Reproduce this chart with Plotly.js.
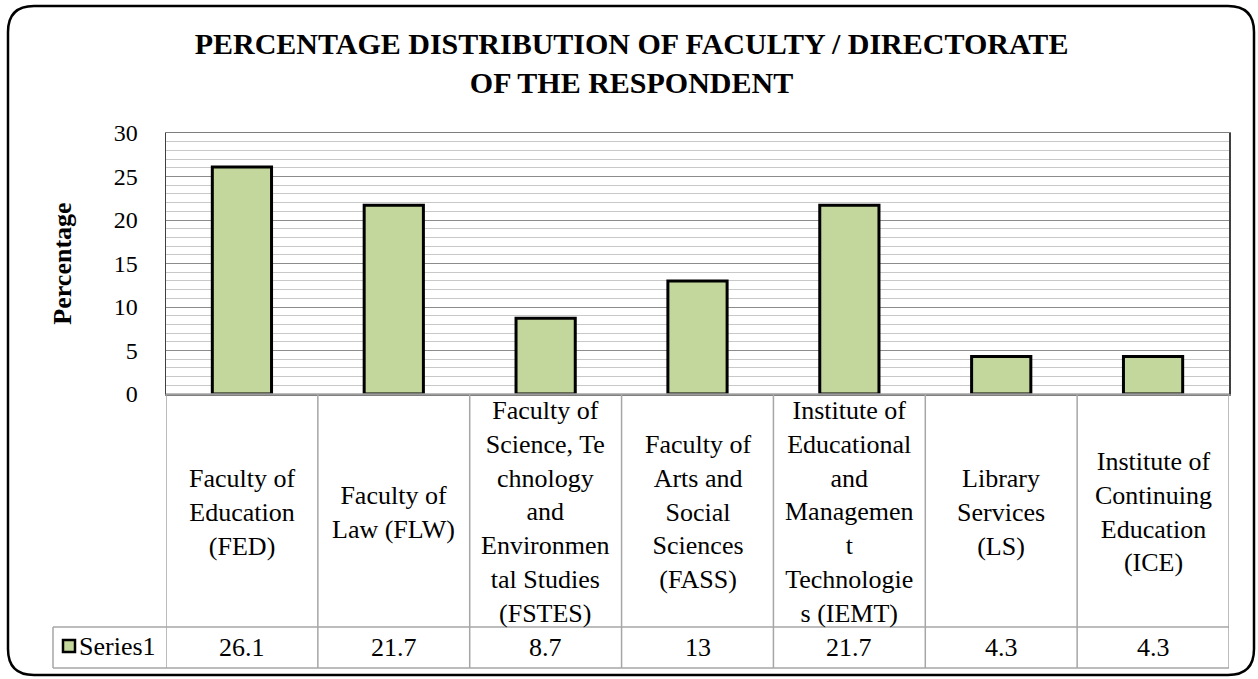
<!DOCTYPE html>
<html>
<head>
<meta charset="utf-8">
<script src="https://cdn.plot.ly/plotly-3.0.1.min.js"></script>
<style>
html,body{margin:0;padding:0;background:#fff;}
#chart{width:1258px;height:679px;}
#warm{position:absolute;left:-9999px;top:0;font-family:"Liberation Serif";font-size:26px;}
</style>
</head>
<body>
<div id="warm">Faculty 0123456789 <b>PERCENTAGE Percentage</b></div>
<div id="chart"></div>
<script>
// ---- data ----
const categories = [
  "Faculty of<br>Education<br>(FED)",
  "Faculty of<br>Law (FLW)",
  "Faculty of<br>Science, Te<br>chnology<br>and<br>Environmen<br>tal Studies<br>(FSTES)",
  "Faculty of<br>Arts and<br>Social<br>Sciences<br>(FASS)",
  "Institute of<br>Educational<br>and<br>Managemen<br>t<br>Technologie<br>s (IEMT)",
  "Library<br>Services<br>(LS)",
  "Institute of<br>Continuing<br>Education<br>(ICE)"
];
const values = [26.1, 21.7, 8.7, 13, 21.7, 4.3, 4.3];
const seriesName = "Series1";
const yTickVals = [0, 5, 10, 15, 20, 25, 30];
const titleText = "PERCENTAGE DISTRIBUTION OF FACULTY / DIRECTORATE<br>OF THE RESPONDENT";
const yTitle = "Percentage";

// ---- layout helpers (pixel -> paper) ----
const W = 1258, H = 679;
const L = 166, R = 1229, T = 133, B = 394;
const px = x => (x - L) / (R - L);
const py = y => (B - y) / (B - T);
const FONT = "Liberation Serif";
const GREEN = "#c3d69b";
const GRIDTABLE = "#a6a6a6";

function build() {
  const idx = categories.map((_, i) => i);
  const trace = {
    type: "bar",
    x: idx,
    y: values,
    name: seriesName,
    width: 0.39,
    marker: { color: GREEN, line: { color: "#000", width: 3 } },
    showlegend: false
  };

  const shapes = [];
  (function () {
    const x0 = 8, y0 = 6, x1 = 1254, y1 = 675, r = 26;
    const p = (x, y) => px(x) + "," + py(y);
    const d = "M " + p(x0 + r, y0) + " L " + p(x1 - r, y0) +
      " Q " + p(x1, y0) + " " + p(x1, y0 + r) +
      " L " + p(x1, y1 - r) +
      " Q " + p(x1, y1) + " " + p(x1 - r, y1) +
      " L " + p(x0 + r, y1) +
      " Q " + p(x0, y1) + " " + p(x0, y1 - r) +
      " L " + p(x0, y0 + r) +
      " Q " + p(x0, y0) + " " + p(x0 + r, y0) + " Z";
    shapes.push({ type: "path", xref: "paper", yref: "paper", path: d,
      line: { color: "#000", width: 2.5 }, layer: "below" });
  })();

  const rowTop = py(394), rowMid = py(627), rowBot = py(668);
  const legendLeft = px(53);
  const tl = { color: GRIDTABLE, width: 1.5 };
  shapes.push({ type: "line", xref: "paper", yref: "paper", x0: 0, x1: 1, y0: rowTop, y1: rowTop, line: tl });
  shapes.push({ type: "line", xref: "paper", yref: "paper", x0: legendLeft, x1: 1, y0: rowMid, y1: rowMid, line: tl });
  shapes.push({ type: "line", xref: "paper", yref: "paper", x0: legendLeft, x1: 1, y0: rowBot, y1: rowBot, line: tl });
  shapes.push({ type: "line", xref: "paper", yref: "paper", x0: legendLeft, x1: legendLeft, y0: rowMid, y1: rowBot, line: tl });
  for (let i = 0; i <= categories.length; i++) {
    shapes.push({ type: "line", xref: "x", yref: "paper", x0: i - 0.5, x1: i - 0.5, y0: rowTop, y1: rowBot, line: tl });
  }
  shapes.push({ type: "rect", xref: "paper", yref: "paper", x0: px(63), x1: px(75), y0: py(652), y1: py(640),
    fillcolor: GREEN, line: { color: "#000", width: 2.5 } });

  const annotations = [];
  categories.forEach((c, i) => {
    annotations.push({ x: i, xref: "x", y: py(512), yref: "paper", text: c, showarrow: false,
      xanchor: "center", yanchor: "middle", align: "center",
      font: { family: FONT, size: 26 } });
    annotations.push({ x: i, xref: "x", y: py(647), yref: "paper", text: String(values[i]), showarrow: false,
      xanchor: "center", yanchor: "middle",
      font: { family: FONT, size: 26 } });
  });
  annotations.push({ x: px(77), xref: "paper", y: py(646), yref: "paper", text: seriesName, showarrow: false,
    xanchor: "left", yanchor: "middle", font: { family: FONT, size: 26 } });

  const layout = {
    width: W, height: H,
    font: { family: FONT, color: "#000" },
    margin: { l: L, r: W - R, t: T, b: H - B, pad: 0 },
    paper_bgcolor: "#fff",
    plot_bgcolor: "#fff",
    title: {
      text: titleText,
      x: 0.502, xanchor: "center",
      y: 1 - 54 / H, yanchor: "middle",
      font: { family: FONT, size: 30, weight: "bold" }
    },
    bargap: 0,
    xaxis: {
      range: [-0.5, categories.length - 0.5],
      showticklabels: false,
      showgrid: false,
      zeroline: false,
      showline: true, linecolor: "#7f7f7f", linewidth: 1.5, mirror: true,
      ticks: "",
      fixedrange: true
    },
    yaxis: {
      range: [0, 30],
      tickvals: yTickVals,
      ticktext: yTickVals.map(String),
      tickfont: { family: FONT, size: 24 },
      ticklabelstandoff: 22,
      ticks: "",
      showgrid: true, gridcolor: "#8c8c8c", gridwidth: 1,
      minor: { dtick: 1, showgrid: true, gridcolor: "#c8c8c8", gridwidth: 1, ticks: "" },
      zeroline: false,
      showline: true, linecolor: "#404040", linewidth: 1.5, mirror: true,
      title: { text: yTitle, font: { family: FONT, size: 26, weight: "bold" }, standoff: 34 },
      fixedrange: true
    },
    shapes: shapes,
    annotations: annotations,
    showlegend: false
  };
  return { data: [trace], layout: layout };
}

const gd = document.getElementById("chart");
const cfg = { staticPlot: true };

function draw() {
  const f = build();
  return Plotly.newPlot(gd, f.data, f.layout, cfg);
}

draw();

// full redraw (new text nodes) once the serif faces are resolved
if (document.fonts && document.fonts.load) {
  Promise.all([
    document.fonts.load('24px "Liberation Serif"'),
    document.fonts.load('26px "Liberation Serif"'),
    document.fonts.load('bold 26px "Liberation Serif"'),
    document.fonts.load('bold 30px "Liberation Serif"')
  ]).then(() => document.fonts.ready).then(() => { draw(); }).catch(() => {});
}
setTimeout(draw, 120);
</script>
</body>
</html>
